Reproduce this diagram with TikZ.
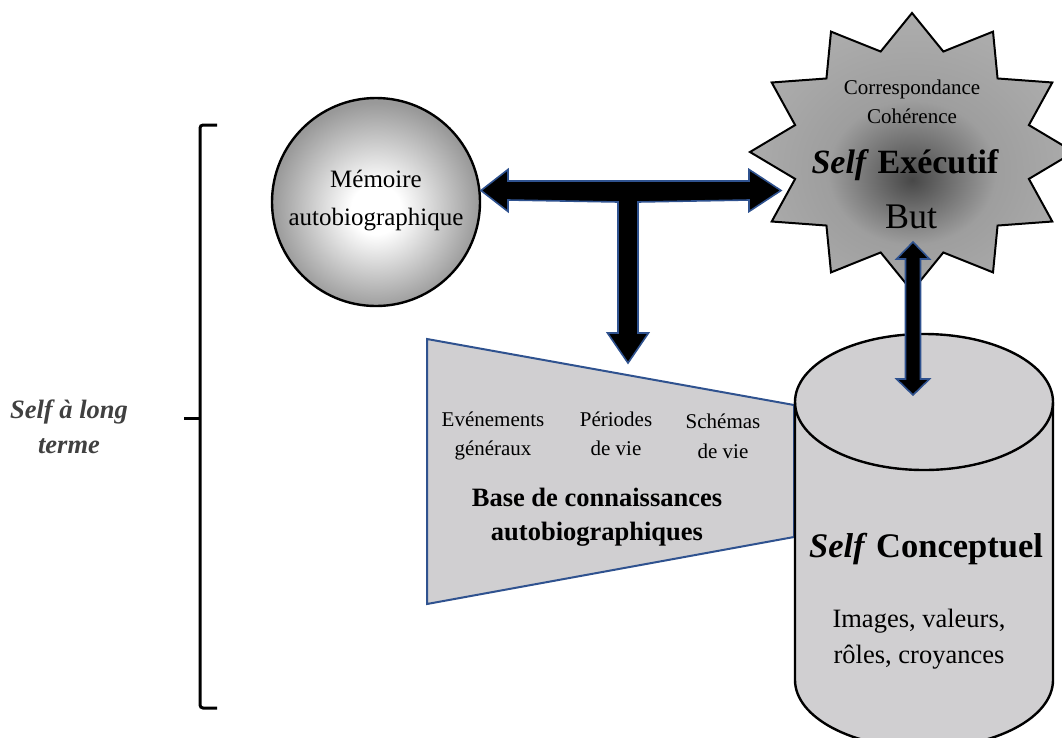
\documentclass[tikz,border=0pt]{standalone}
\usepackage{fontspec}
\setmainfont{Liberation Serif}
\usetikzlibrary{calc}
\definecolor{bord}{HTML}{2F528F}
\definecolor{boxgray}{HTML}{D0CFD1}
\definecolor{lblgray}{HTML}{404040}
\pgfdeclareradialshading{ballshade}{\pgfpoint{0bp}{-2bp}}{color(0bp)=(white); color(6bp)=(white); color(25bp)=(black!40); color(50bp)=(black!40)}
\pgfdeclareradialshading{starshade}{\pgfpoint{0bp}{-5bp}}{color(0bp)=(black!72); color(13bp)=(black!38); color(25bp)=(black!33); color(50bp)=(black!33)}
\begin{document}
\begin{tikzpicture}[x=1pt,y=-1pt,
  txt/.style={inner sep=0pt, anchor=base, align=center, text=black},
  fatarrow/.style={fill=black, draw=bord, line width=1.6pt, line join=miter},
  shapeline/.style={draw=black, line width=2.4pt},
]
\useasboundingbox (0,0) rectangle (1062,737);

% brace and label
\draw[line width=3pt, rounded corners=3pt] (217,125) -- (200,125) -- (200,708) -- (217,708);
\coordinate (bmid) at (200,418);
\draw[line width=3pt] (bmid) -- ++(-16,0);
\node[txt, text=lblgray, font=\fontsize{26.5}{35}\selectfont\bfseries\itshape] (lt) at (69,418) {Self à long};
\node[txt, text=lblgray, font=\fontsize{26.5}{35}\selectfont\bfseries\itshape] (lt2) at (69,453) {terme};

% knowledge base trapezoid
\draw[fill=boxgray, draw=bord, line width=2pt] (427,339) coordinate (kbtl) -- (794,405) coordinate (kbtr) -- (794,537) coordinate (kbbr) -- (427,604) coordinate (kbbl) -- cycle;
\node[txt, font=\fontsize{21}{30}\selectfont] (ev1) at (493,426) {Evénements};
\node[txt, font=\fontsize{21}{30}\selectfont] (ev2) at (493,455) {généraux};
\node[txt, font=\fontsize{21}{30}\selectfont] (pe1) at (616,426) {Périodes};
\node[txt, font=\fontsize{21}{30}\selectfont] (pe2) at (616,455) {de vie};
\node[txt, font=\fontsize{21}{30}\selectfont] (sc1) at (723,428) {Schémas};
\node[txt, font=\fontsize{21}{30}\selectfont] (sc2) at (723,458) {de vie};
\node[txt, font=\fontsize{26.5}{34}\selectfont\bfseries] (kb1) at (597,506) {Base de connaissances};
\node[txt, font=\fontsize{26.5}{34}\selectfont\bfseries] (kb2) at (597,540) {autobiographiques};

% conceptual self cylinder
\coordinate (cyl) at (924,402);
\draw[fill=boxgray, shapeline] (795,402) -- (795,680)
  arc[start angle=180, end angle=360, x radius=129pt, y radius=68pt]
  -- (1053,402)
  arc[start angle=0, end angle=180, x radius=129pt, y radius=68pt] -- cycle;
\draw[shapeline] (795,402) arc[start angle=180, end angle=360, x radius=129pt, y radius=68pt];
\node[txt, font=\fontsize{34.5}{40}\selectfont\bfseries] (sc) at (926,557) {\textit{Self} Conceptuel};
\node[txt, font=\fontsize{26.5}{36}\selectfont] (im1) at (919,627) {Images, valeurs,};
\node[txt, font=\fontsize{26.5}{36}\selectfont] (im2) at (919,663) {rôles, croyances};

% autobiographical memory
\node[circle, draw=black, line width=2.4pt, minimum size=208pt, inner sep=0pt, shading=ballshade] (mem) at (376,202) {};
\node[txt, font=\fontsize{25}{36}\selectfont] (memt1) at (376,187) {Mémoire};
\node[txt, font=\fontsize{25}{36}\selectfont] (memt2) at (376,225) {autobiographique};

% executive self star
\coordinate (exec) at (912,152);
\draw[line width=2pt, shading=starshade]
  ($(exec)+(90:162pt and 139pt)$)
  \foreach \i [evaluate=\i as \rx using {isodd(\i) ? 121 : 162},
               evaluate=\i as \ry using {isodd(\i) ? 104 : 139}] in {1,...,23}
  { -- ($(exec)+({90+15*\i}:\rx pt and \ry pt)$) } -- cycle;
\node[txt, font=\fontsize{21}{30}\selectfont] (corr) at (912,94) {Correspondance};
\node[txt, font=\fontsize{21}{30}\selectfont] (coh) at (912,123) {Cohérence};
\node[txt, font=\fontsize{34}{40}\selectfont\bfseries] (sexe) at (905,173) {\textit{Self} Exécutif};
\node[txt, font=\fontsize{36}{40}\selectfont] (but) at (911,228) {But};

% T-shaped double arrow
\coordinate (hl) at (481,190.5);
\coordinate (hr) at (781,190.5);
\coordinate (dt) at (628,363);
\draw[fatarrow] (hl) -- ++(27,-21) -- ++(0,11.5) -- ($(hr)+(-32,-9.5)$) -- ++(0,-11.5)
  -- (hr) -- ++(-32,21) -- ++(0,-11.5) -- ($(dt)+(10,-161)$) -- ($(dt)+(10,-30)$) -- ++(10.5,0)
  -- (dt) -- ++(-20.5,-30) -- ++(10.5,0) -- ($(dt)+(-10,-161)$) -- ($(hl)+(27,9.5)$) -- ++(0,11.5) -- cycle;

% vertical double arrow
\coordinate (vtop) at (913,242);
\coordinate (vbot) at (913,395);
\draw[fatarrow] (vtop) -- ++(16.5,17) -- ++(-9,0) -- ($(vbot)+(7.5,-16)$) -- ++(9,0)
  -- (vbot) -- ++(-16.5,-16) -- ++(9,0) -- ($(vtop)+(-7.5,17)$) -- ++(-9,0) -- cycle;
\end{tikzpicture}
\end{document}
